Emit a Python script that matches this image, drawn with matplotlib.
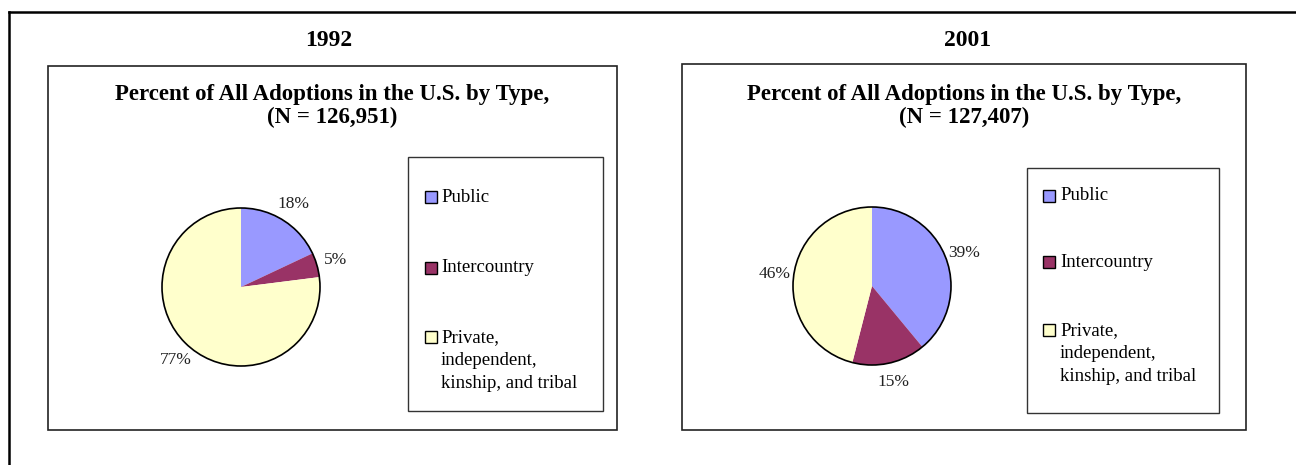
import matplotlib
matplotlib.use("Agg")
import matplotlib.pyplot as plt
from matplotlib.patches import Rectangle, Circle

plt.rcParams['font.family'] = ['Liberation Serif', 'DejaVu Serif']

W, H = 1296, 465

# data
categories = ['Public', 'Intercountry', 'Private,\nindependent,\nkinship, and tribal']
colors = ['#9999FF', '#993366', '#FFFFCC']
years = ['1992', '2001']
totals = ['126,951', '127,407']
shares_1992 = [18, 5, 77]
shares_2001 = [39, 15, 46]
shares = [shares_1992, shares_2001]


def fx(x):
    return x / W


def fy(y):
    return 1 - y / H


fig = plt.figure(figsize=(W / 100, H / 100), dpi=100)
fig.patch.set_facecolor('white')

# outer frame (top and left edge only visible)
fig.add_artist(plt.Line2D([fx(9), fx(1296)], [fy(12), fy(12)], color='black', lw=1.8))
fig.add_artist(plt.Line2D([fx(9), fx(9)], [fy(12), fy(465)], color='black', lw=1.8))

# layout per panel (pixel coords)
panels = [
    dict(box=(48, 66, 617, 430), cx=241, cy=287, r=79, year_x=329,
         leg=(408, 157, 603, 411), leg_rows=[197, 268, 337], sq_x=425, txt_x=441),
    dict(box=(682, 64, 1246, 430), cx=872, cy=286, r=79, year_x=968,
         leg=(1027, 168, 1219, 413), leg_rows=[196, 262, 330], sq_x=1043, txt_x=1060),
]

for p, yr, tot, vals in zip(panels, years, totals, shares):
    x0, y0, x1, y1 = p['box']
    fig.add_artist(Rectangle((fx(x0), fy(y1)), fx(x1 - x0), (y1 - y0) / H,
                             fill=False, ec='#222222', lw=1.2, transform=fig.transFigure))
    fig.text(fx(p['year_x']), fy(40), yr, ha='center', va='center',
             fontsize=17, fontweight='bold')
    tx = (x0 + x1) / 2
    fig.text(fx(tx), fy(106), 'Percent of All Adoptions in the U.S. by Type,\n(N = %s)' % tot,
             ha='center', va='center', fontsize=16.5, fontweight='bold', linespacing=1.1)

    # pie
    r = p['r']
    ax = fig.add_axes([fx(p['cx'] - r), fy(p['cy'] + r), 2 * r / W, 2 * r / H])
    wedges, _, autotexts = ax.pie(vals, colors=colors, startangle=90, counterclock=False,
                                  radius=1, autopct=lambda v: '%d%%' % round(v),
                                  pctdistance=1.24, wedgeprops=dict(linewidth=0),
                                  textprops=dict(fontsize=12.5, color='#222222'))
    ax.add_patch(Circle((0, 0), 1, fill=False, ec='black', lw=1.2, clip_on=False))
    ax.set_xlim(-1, 1)
    ax.set_ylim(-1, 1)
    ax.set_aspect('equal')
    ax.axis('off')

    # legend
    lx0, ly0, lx1, ly1 = p['leg']
    fig.add_artist(Rectangle((fx(lx0), fy(ly1)), fx(lx1 - lx0), (ly1 - ly0) / H,
                             fill=False, ec='#333333', lw=1.0, transform=fig.transFigure))
    for lab, col, ry in zip(categories, colors, p['leg_rows']):
        s = 12
        fig.add_artist(Rectangle((fx(p['sq_x']), fy(ry + s / 2)), s / W, s / H,
                                 fc=col, ec='black', lw=1.0, transform=fig.transFigure))
        if '\n' in lab:
            fig.text(fx(p['txt_x']), fy(ry - 8), lab, ha='left', va='top',
                     fontsize=13.5, linespacing=1.47)
        else:
            fig.text(fx(p['txt_x']), fy(ry), lab, ha='left', va='center', fontsize=13.5)

fig.savefig('out.png', dpi=100, facecolor='white')
